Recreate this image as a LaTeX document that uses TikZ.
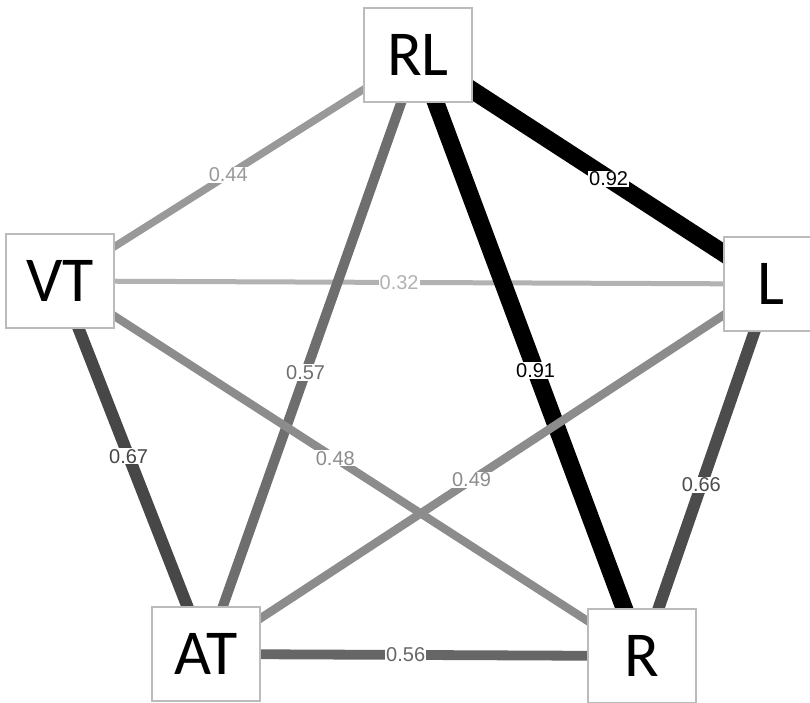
\documentclass[tikz,border=0pt]{standalone}
\usepackage{fontspec}
\setmainfont{Liberation Sans}
\newfontfamily\nodefont{Carlito}
\usetikzlibrary{backgrounds}
\definecolor{boxgray}{HTML}{BBBBBB}
\tikzset{
  vbox/.style={draw=boxgray, line width=1.8pt, fill=white, minimum width=108pt,
    minimum height=94pt, inner sep=0pt, font=\nodefont\fontsize{64}{64}\selectfont},
  elabel/.style={fill=white, inner sep=1pt, font=\fontsize{20}{20}\selectfont},
}
% from, to, label, width(pt), black percent, pos
\newcommand{\grEdge}[6]{%
  \draw[line width=#4pt, color=black!#5] (#1.center) -- node[elabel, text=black!#5, pos=#6]{#3} (#2.center);}
\begin{document}
\begin{tikzpicture}[x=1pt, y=-1pt]
\clip (0,0) rectangle (810,702);
\node[vbox] (RL) at (418,55) {RL};
\node[vbox] (VT) at (60,281) {VT};
\node[vbox, minimum width=94pt] (L) at (771,284) {L};
\node[vbox] (AT) at (206,654) {AT};
\node[vbox] (R) at (642,656) {R};
\begin{scope}[on background layer]
\fill[white] (0,0) rectangle (810,702);
\grEdge{VT}{RL}{0.44}{7.4}{40}{0.47}
\grEdge{RL}{L}{0.92}{17.5}{100}{0.54}
\grEdge{VT}{L}{0.32}{5}{30}{0.477}
\grEdge{RL}{AT}{0.57}{10}{57}{0.53}
\grEdge{RL}{R}{0.91}{17.3}{100}{0.525}
\grEdge{VT}{AT}{0.67}{12}{72}{0.47}
\grEdge{VT}{R}{0.48}{8.2}{45}{0.473}
\grEdge{AT}{L}{0.49}{8.4}{45}{0.47}
\grEdge{L}{R}{0.66}{11.8}{70}{0.54}
\grEdge{AT}{R}{0.56}{9.8}{60}{0.458}
\end{scope}
\end{tikzpicture}
\end{document}
